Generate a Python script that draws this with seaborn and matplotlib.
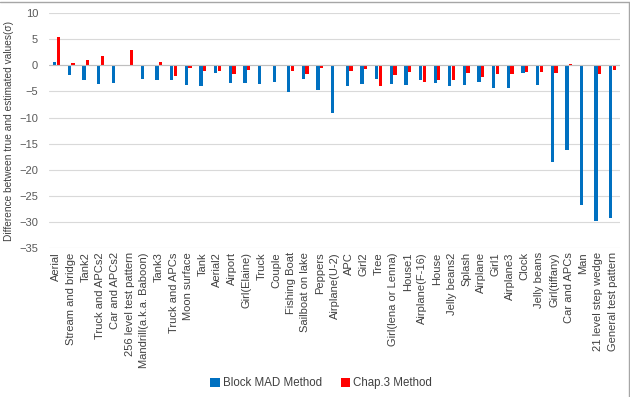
import pandas as pd
import seaborn as sns
import matplotlib.pyplot as plt
from matplotlib.lines import Line2D

# test images (x categories)
images = [
    "Aerial", "Stream and bridge", "Tank2", "Truck and APCs2", "Car and APCs2",
    "256 level test pattern", "Mandrill(a.k.a. Baboon)", "Tank3", "Truck and APCs",
    "Moon surface", "Tank", "Aerial2", "Airport", "Girl(Elaine)", "Truck", "Couple",
    "Fishing Boat", "Sailboat on lake", "Peppers", "Airplane(U-2)", "APC", "Girl2",
    "Tree", "Girl(lena or Lenna)", "House1", "Airplane(F-16)", "House", "Jelly beans2",
    "Splash", "Airplane", "Girl1", "Airplane3", "Clock", "Jelly beans", "Girl(tiffany)",
    "Car and APCs", "Man", "21 level step wedge", "General test pattern",
]

block_mad = [
    0.6, -1.8, -2.9, -3.5, -3.3, 0.0, -2.6, -2.8, -2.8, -3.8, -3.9, -1.5, -3.3,
    -3.3, -3.6, -3.2, -5.1, -2.6, -4.7, -9.2, -4.0, -3.5, -2.6, -3.5, -3.8, -2.8,
    -3.3, -4.0, -3.8, -3.1, -4.3, -4.3, -1.4, -3.8, -18.5, -16.2, -26.8, -29.9, -29.2,
]
chap3 = [
    5.5, 0.4, 1.1, 1.7, -0.2, 2.9, 0.0, 0.7, -2.0, -0.45, -1.0, -1.1, -1.6,
    -0.8, -0.2, -0.2, -1.1, -1.6, -0.6, 0.0, -1.0, -0.7, -4.0, -1.9, -1.3, -3.1,
    -2.8, -2.9, -1.4, -2.2, -1.7, -1.7, -1.2, -1.3, -1.5, 0.2, 0.0, -1.6, -0.8,
]

methods = ["Block MAD Method", "Chap.3 Method"]
palette = {"Block MAD Method": "#0070C0", "Chap.3 Method": "#FF0000"}

df = pd.DataFrame({
    "image": images * 2,
    "method": [methods[0]] * len(images) + [methods[1]] * len(images),
    "diff": block_mad + chap3,
})

sns.set_style("white")
plt.rcParams["font.family"] = ["Liberation Sans", "DejaVu Sans"]

fig = plt.figure(figsize=(6.3, 3.97), dpi=100)
ax = fig.add_axes([0.078, 0.375, 0.906, 0.592])

sns.barplot(data=df, x="image", y="diff", hue="method", palette=palette,
            width=0.5, gap=0.1, ax=ax, saturation=1, linewidth=0)

ax.set_ylim(-35, 10)
ax.set_yticks(range(-35, 11, 5))
ax.yaxis.grid(True, color="#d9d9d9", linewidth=0.8)
ax.set_axisbelow(True)
ax.axhline(0, color="#bfbfbf", linewidth=0.8, zorder=1)
for s in ax.spines.values():
    s.set_visible(False)

ax.set_xlabel("")
ax.set_ylabel("Difference between true and estimated values(σ)", fontsize=7.3, color="#404040")
ax.tick_params(axis="y", labelsize=8, colors="#595959", length=0, pad=8)
ax.tick_params(axis="x", labelsize=8, colors="#404040", length=0, pad=3)
plt.setp(ax.get_xticklabels(), rotation=90)

handles, labels = ax.get_legend_handles_labels()
ax.get_legend().remove()
fig.legend(handles, labels, loc="center", bbox_to_anchor=(0.51, 0.035), ncol=2,
           frameon=False, fontsize=8.3, handlelength=0.8, handleheight=0.8,
           handletextpad=0.3, columnspacing=1.6, labelcolor="#404040")

# chart frame (top and right edges visible in the original)
fig.add_artist(Line2D([0, 0.998], [0.995, 0.995], transform=fig.transFigure, color="#a6a6a6", lw=1))
fig.add_artist(Line2D([0.998, 0.998], [0, 0.995], transform=fig.transFigure, color="#a6a6a6", lw=1))

fig.savefig("out.png", dpi=100)
